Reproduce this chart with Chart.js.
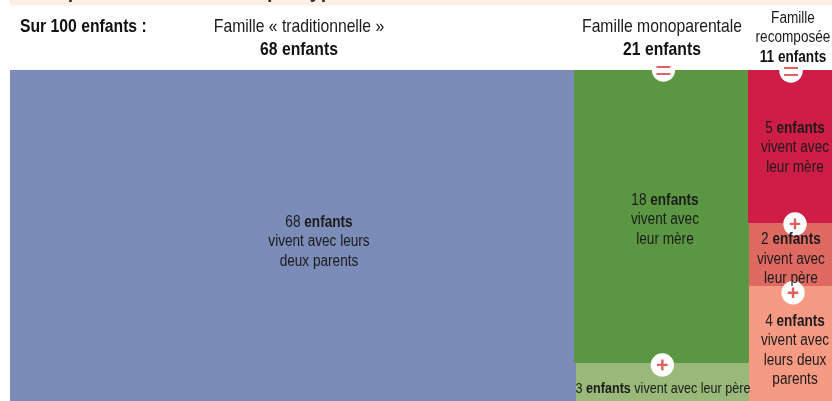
<!DOCTYPE html>
<html lang="fr"><head><meta charset="utf-8">
<script src="https://cdn.jsdelivr.net/npm/chart.js@4"></script>
<style>html,body{margin:0;padding:0;background:#fff}canvas{display:block}</style>
</head><body><canvas id="c" width="832" height="401"></canvas>
<script>
// Rectangles, in % of the chart's width (x) and height (y)
const regionNames = ["Deux parents","Mono mère","Mono père","Recomp. mère","Recomp. père","Recomp. deux parents"];
const regionX0 = [0, 68.61, 68.86, 89.78, 89.90, 89.90];
const regionX1 = [68.86, 89.90, 89.90, 100, 100, 100];
const regionY0 = [0, 0, 88.52, 0, 46.22, 65.26];
const regionY1 = [100, 88.52, 100, 46.22, 65.26, 100];
const regionColors = ["#7b8cb8","#5b9743","#98b97a","#ce1e47","#df6a62","#f69a84"];

const plusX = [95.5, 95.26, 79.36];
const plusY = [46.5, 67.3, 89.1];
const equalX = [79.5, 95.01];
const equalY = [0, 0.3];
const equalBarsTop = [-0.9, -0.6];
const equalBarsBottom = [1.2, 1.5];

const headerLeft = "Sur 100 enfants :";
const headers = [
  {lines:["Famille « traditionnelle »"], count:"68 enfants"},
  {lines:["Famille monoparentale"], count:"21 enfants"},
  {lines:["Famille","recomposée"], count:"11 enfants"}
];
const cutTitle = "Répartition des enfants par type de famille";
const regionLabels = [
  {x:37.59,y:47.4,size:16,lines:[["68 ","enfants"],["vivent avec leurs"],["deux parents"]]},
  {x:79.68,y:40.8,size:16,lines:[["18 ","enfants"],["vivent avec"],["leur mère"]]},
  {x:95.5,y:19.0,size:16,lines:[["5 ","enfants"],["vivent avec"],["leur mère"]]},
  {x:95.0,y:52.6,size:16,lines:[["2 ","enfants"],["vivent avec"],["leur père"]]},
  {x:95.5,y:77.3,size:16,lines:[["4 ","enfants"],["vivent avec"],["leurs deux"],["parents"]]},
  {x:79.44,y:97.6,size:14.8,lines:[["3 ","enfants"," vivent avec leur père"]]}
];

const FONT = '"Liberation Sans",sans-serif';
const NARROW = 0.85;
const INK = "#1c1a1a";
const regionSets = regionNames.map((n,i)=>({
  label:n, type:"line",
  data:[{x:regionX0[i],y:regionY1[i]},{x:regionX1[i],y:regionY1[i]}],
  fill:{value:regionY0[i]}, backgroundColor:regionColors[i],
  borderWidth:0, pointRadius:0, tension:0, order:10-i
}));
const circleSet = {label:"pastilles",type:"scatter",
  data:[...plusX.map((x,i)=>({x,y:plusY[i]})),...equalX.map((x,i)=>({x,y:equalY[i]}))],
  pointStyle:"circle",pointRadius:11.7,pointBackgroundColor:"#fff",pointBorderWidth:0,clip:false,order:3};
const plusSet = {label:"plus",type:"scatter",data:plusX.map((x,i)=>({x,y:plusY[i]})),
  pointStyle:"cross",pointRadius:5.3,pointBorderColor:"#e0605f",pointBorderWidth:2.4,clip:false,order:2};
const equalSet = {label:"égal",type:"scatter",
  data:[...equalX.map((x,i)=>({x,y:equalBarsTop[i]})),...equalX.map((x,i)=>({x,y:equalBarsBottom[i]}))],
  pointStyle:"line",pointRadius:7,pointBorderColor:"#e0605f",pointBorderWidth:2,clip:false,order:1};

// condensed text: draws real text, squeezed horizontally
function put(c,t,x,y){c.save();c.translate(x,y);c.scale(NARROW,1);c.fillText(t,0,0);c.restore();}
function runs(c,parts,cx,y,size){
  const fonts = parts.map((p,i)=>`${parts.length>1&&i===1?"bold ":""}${size}px ${FONT}`);
  let w=0; parts.forEach((p,i)=>{c.font=fonts[i];w+=c.measureText(p).width*NARROW;});
  let x=cx-w/2;
  parts.forEach((p,i)=>{c.font=fonts[i];put(c,p,x,y);x+=c.measureText(p).width*NARROW;});
}
const textPlugin = {id:"texts",
  beforeDraw(chart){const c=chart.ctx;c.save();c.fillStyle="#fff0e6";c.fillRect(10,0,822,5.5);
    c.beginPath();c.rect(10,0,822,5.5);c.clip();c.fillStyle="#333";c.font=`bold 23.2px ${FONT}`;c.textAlign="left";c.textBaseline="alphabetic";
    put(c,cutTitle,42.5,-3);c.restore();},
  afterDatasetsDraw(chart){
    const c=chart.ctx,sx=chart.scales.x,sy=chart.scales.y;
    c.save();c.fillStyle=INK;c.textAlign="left";c.textBaseline="alphabetic";
    regionLabels.forEach(l=>{
      const px=sx.getPixelForValue(l.x);let py=sy.getPixelForValue(l.y);
      l.lines.forEach(parts=>{runs(c,parts,px,py,l.size);py+=19.4;});
    });
    c.font=`bold 18.5px ${FONT}`;c.fillStyle="#111";put(c,headerLeft,20,32);
    const hx=[299,662,793],hs=[18.5,18.5,16];
    const hy=[[32],[32],[23,42]],cy=[55,55,62],cs=[18.5,18.5,16];
    headers.forEach((h,i)=>{
      c.fillStyle=INK;h.lines.forEach((t,j)=>runs(c,[t],hx[i],hy[i][j],hs[i]));
      c.fillStyle="#111";c.font=`bold ${cs[i]}px ${FONT}`;const w=c.measureText(h.count).width*NARROW;
      put(c,h.count,hx[i]-w/2,cy[i]);
    });
    c.restore();
  }};
new Chart(document.getElementById("c"),{
  type:"scatter",
  data:{datasets:[equalSet,plusSet,circleSet,...regionSets]},
  options:{responsive:false,animation:false,
    layout:{autoPadding:false,padding:{left:10,top:70,right:0,bottom:0}},
    plugins:{legend:{display:false},tooltip:{enabled:false},title:{display:false}},
    scales:{x:{type:"linear",min:0,max:100,display:false},
            y:{type:"linear",min:0,max:100,reverse:true,display:false}}},
  plugins:[textPlugin]
});
</script></body></html>
